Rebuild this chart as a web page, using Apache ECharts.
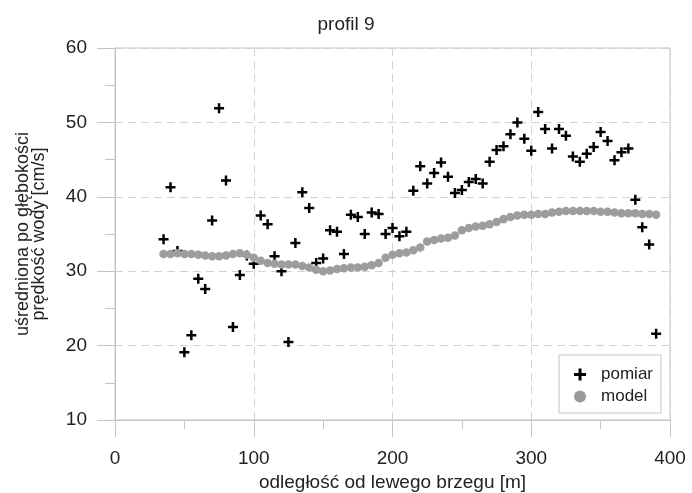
<!DOCTYPE html>
<html>
<head>
<meta charset="utf-8">
<script src="https://cdn.jsdelivr.net/npm/echarts@6/dist/echarts.min.js"></script>
<style>
  html, body { margin: 0; padding: 0; background: #fff; }
  #view { width: 692px; height: 493px; }
</style>
</head>
<body>
<div id="view"></div>
<script>
// distance from left bank [m], every 5 m
var odleglosc = [35, 40, 45, 50, 55, 60, 65, 70, 75, 80, 85, 90, 95, 100, 105, 110, 115, 120,
    125, 130, 135, 140, 145, 150, 155, 160, 165, 170, 175, 180, 185, 190, 195, 200, 205, 210,
    215, 220, 225, 230, 235, 240, 245, 250, 255, 260, 265, 270, 275, 280, 285, 290, 295, 300,
    305, 310, 315, 320, 325, 330, 335, 340, 345, 350, 355, 360, 365, 370, 375, 380, 385, 390];

var pomiar = [34.3, 41.3, 32.7, 19.1, 21.4, 29.0, 27.6, 36.8, 51.9, 42.2, 22.5, 29.5, 32.1, 31.0,
    37.5, 36.3, 32.0, 30.0, 20.5, 33.8, 40.6, 38.5, 31.1, 31.7, 35.5, 35.3, 32.3, 37.6, 37.3,
    35.0, 37.9, 37.7, 35.0, 35.8, 34.7, 35.3, 40.8, 44.1, 41.8, 43.2, 44.6, 42.7, 40.5, 40.9,
    42.0, 42.4, 41.8, 44.7, 46.3, 46.8, 48.4, 50.0, 47.8, 46.2, 51.4, 49.1, 46.5, 49.1, 48.2,
    45.4, 44.7, 45.8, 46.7, 48.7, 47.5, 44.9, 46.0, 46.5, 39.6, 35.9, 33.6, 21.6];

var model = [32.3, 32.3, 32.4, 32.3, 32.3, 32.2, 32.1, 32.0, 32.0, 32.1, 32.3, 32.4, 32.2, 31.8,
    31.4, 31.1, 31.0, 30.9, 30.9, 30.9, 30.7, 30.5, 30.2, 30.0, 30.1, 30.3, 30.4, 30.5, 30.5,
    30.6, 30.8, 31.1, 31.8, 32.2, 32.4, 32.5, 32.8, 33.2, 34.0, 34.2, 34.4, 34.5, 34.8, 35.5,
    35.8, 36.0, 36.1, 36.3, 36.6, 37.0, 37.3, 37.5, 37.6, 37.6, 37.7, 37.7, 37.9, 38.0, 38.1,
    38.1, 38.1, 38.1, 38.1, 38.0, 38.0, 37.9, 37.8, 37.8, 37.8, 37.7, 37.7, 37.6];

function pairs(xs, ys) {
    return xs.map(function (x, i) { return [x, ys[i]]; });
}

var krzyz = 'path://M3,0H5V3H8V5H5V8H3V5H0V3H3Z';
var szary = '#c4c4c4';
var font = 'Liberation Sans, Arial, sans-serif';

var myChart = echarts.init(document.getElementById('view'));

var option = {
    backgroundColor: '#fff',
    animation: false,
    textStyle: { fontFamily: font },
    title: {
        text: 'profil 9',
        left: 'center',
        top: 15,
        padding: 0,
        textStyle: { fontSize: 19, fontWeight: 'normal', color: '#222', fontFamily: font }
    },
    grid: {
        left: 115, right: 22, top: 48, bottom: 73,
        containLabel: false,
        outerBoundsMode: 'none',
        show: true, borderColor: szary, borderWidth: 1
    },
    legend: {
        orient: 'vertical',
        right: 31,
        bottom: 80,
        padding: [11, 8, 8, 15],
        itemGap: 5,
        itemWidth: 12,
        itemHeight: 12,
        borderColor: szary,
        borderWidth: 1,
        borderRadius: 0,
        backgroundColor: '#fff',
        textStyle: { fontSize: 17, color: '#222', fontFamily: font, padding: [0, 0, 0, 10] },
        data: [
            { name: 'pomiar', icon: krzyz, itemStyle: { color: '#000' } },
            { name: 'model', icon: 'circle', itemStyle: { color: '#999' } }
        ]
    },
    xAxis: {
        type: 'value',
        min: 0, max: 400, interval: 100,
        name: 'odległość od lewego brzegu [m]',
        nameLocation: 'middle',
        nameGap: 37,
        nameTextStyle: { fontSize: 19, color: '#222', fontFamily: font },
        axisLine: { lineStyle: { color: szary } },
        axisTick: { length: 17, lineStyle: { color: szary } },
        minorTick: { show: true, splitNumber: 2, length: 9, lineStyle: { color: szary } },
        axisLabel: { margin: 29, fontSize: 19, color: '#222', fontFamily: font },
        splitLine: { show: true, lineStyle: { color: '#d2d2d2', type: [8, 5] } }
    },
    yAxis: {
        type: 'value',
        min: 10, max: 60, interval: 10,
        name: 'uśredniona po głębokości\nprędkość wody [cm/s]',
        nameLocation: 'middle',
        nameGap: 68,
        nameTextStyle: { fontSize: 18, lineHeight: 16, color: '#222', fontFamily: font },
        axisLine: { show: true, lineStyle: { color: szary } },
        axisTick: { show: true, length: 18, lineStyle: { color: szary } },
        minorTick: { show: true, splitNumber: 2, length: 10, lineStyle: { color: szary } },
        axisLabel: { margin: 28, fontSize: 19, color: '#222', fontFamily: font },
        splitLine: { show: true, lineStyle: { color: '#d2d2d2', type: [8, 5] } }
    },
    series: [{
        name: 'pomiar',
        type: 'scatter',
        symbol: krzyz,
        symbolSize: 10,
        itemStyle: { color: '#000', opacity: 1 },
        z: 2,
        data: pairs(odleglosc, pomiar)
    }, {
        name: 'model',
        type: 'scatter',
        symbol: 'circle',
        symbolSize: 8.5,
        itemStyle: { color: '#9d9d9d', opacity: 1 },
        z: 3,
        data: pairs(odleglosc, model)
    }]
};

myChart.setOption(option);
</script>
</body>
</html>
